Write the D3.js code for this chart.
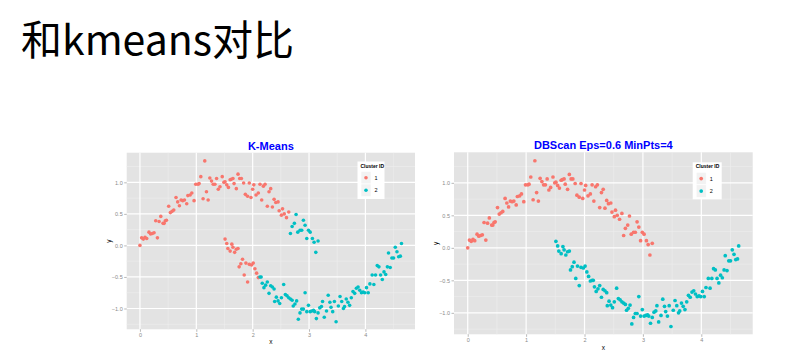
<!DOCTYPE html>
<html>
<head>
<meta charset="utf-8">
<script src="https://cdn.jsdelivr.net/npm/d3@7"></script>
<style>
  body { margin: 0; background: #fff; }
  svg { display: block; }
</style>
</head>
<body>
<div id="chart"></div>
<script>
// two moons, split in 4 groups by (kmeans id, dbscan id)
var upperX = [0.00,0.03,0.06,0.09,0.12,0.16,0.19,0.22,0.25,0.28,0.31,0.34,0.37,0.41,0.43,0.45,0.47,0.51,0.54,0.57,0.60,0.64,0.67,0.70,0.73,0.76,0.79,0.83,0.85,0.89,0.92,0.96,0.99,1.03,1.05,1.08,1.12,1.15,1.18,1.21,1.24,1.27,1.30,1.33,1.36,1.39,1.42,1.46,1.49,1.51,1.54,1.57,1.60,1.62,1.65,1.67,1.71,1.74,1.77,1.80,1.84,1.87,1.91,1.94,1.97,2.00,2.02,2.06,2.10,2.13,2.16,2.19,2.22,2.26,2.29,2.32,2.35,2.38,2.41,2.45,2.47,2.51,2.53,2.56,2.60,2.64];
var upperY = [0.00,0.12,0.10,0.13,0.11,0.21,0.18,0.19,0.20,0.39,0.12,0.38,0.46,0.35,0.35,0.39,0.40,0.62,0.52,0.54,0.56,0.76,0.69,0.63,0.72,0.71,0.72,0.66,0.79,0.80,0.83,0.71,0.97,0.97,0.98,1.09,0.74,1.34,0.85,0.72,1.07,1.02,0.97,0.97,1.06,0.89,0.93,1.09,1.00,1.01,0.96,0.92,1.04,1.05,1.06,0.98,0.90,1.13,1.06,1.06,0.99,0.81,0.78,0.99,0.76,0.89,0.96,0.80,0.83,0.97,0.72,0.94,0.97,0.62,0.85,0.90,0.61,0.73,0.68,0.69,0.55,0.48,0.58,0.50,0.44,0.53];

var tipX = [2.67,2.70,2.74,2.77,2.80,2.84,2.87,2.90,2.93,2.96,2.99,3.02,3.06,3.09,3.12,3.16];
var tipY = [0.19,0.30,0.35,0.49,0.21,0.24,0.24,0.40,0.32,0.11,0.24,0.21,0.11,0.05,-0.11,0.07];

var headX = [1.51,1.54,1.56,1.60,1.63,1.65,1.68,1.71,1.74,1.76,1.79,1.82,1.85,1.88,1.91,1.94,1.98,2.01,2.04,2.07,2.10];
var headY = [0.10,0.03,-0.05,-0.09,0.02,-0.03,-0.11,-0.06,-0.05,-0.34,-0.29,-0.22,-0.47,-0.28,-0.58,-0.30,-0.31,-0.28,-0.37,-0.44,-0.51];

var tailX = [2.13,2.15,2.17,2.20,2.23,2.26,2.29,2.32,2.35,2.38,2.39,2.42,2.45,2.48,2.51,2.55,2.58,2.61,2.64,2.67,2.70,2.72,2.75,2.78,2.81,2.84,2.87,2.90,2.93,2.96,2.99,3.02,3.05,3.08,3.10,3.13,3.16,3.19,3.22,3.24,3.27,3.31,3.34,3.37,3.39,3.42,3.45,3.48,3.52,3.55,3.58,3.61,3.63,3.66,3.69,3.72,3.75,3.78,3.81,3.84,3.87,3.90,3.93,3.96,3.99,4.02,4.05,4.08,4.12,4.15,4.18,4.21,4.24,4.27,4.30,4.33,4.36,4.39,4.41,4.44,4.47,4.50,4.53,4.56,4.59,4.62,4.64];
var tailY = [-0.50,-0.50,-0.60,-0.67,-0.63,-0.58,-0.76,-0.64,-0.66,-0.69,-0.89,-0.82,-0.88,-0.92,-0.83,-0.62,-0.78,-0.80,-0.83,-0.85,-0.87,-0.96,-0.93,-0.88,-1.17,-1.07,-1.01,-1.01,-0.75,-1.05,-0.95,-1.05,-1.04,-1.03,-1.05,-1.16,-1.07,-0.99,-0.97,-0.89,-1.14,-1.04,-0.79,-0.90,-0.98,-1.05,-0.89,-1.21,-0.96,-0.81,-0.89,-1.00,-0.97,-0.85,-0.90,-0.95,-0.83,-0.73,-0.76,-0.68,-0.66,-0.71,-0.75,-0.74,-0.75,-0.67,-0.75,-0.61,-0.47,-0.62,-0.47,-0.32,-0.34,-0.47,-0.54,-0.42,-0.46,-0.34,-0.12,-0.35,-0.20,-0.20,-0.03,-0.10,-0.18,-0.17,0.03];

var groups = [
  {x: upperX, y: upperY, kmeans: 1, dbscan: 1},
  {x: tipX,   y: tipY,   kmeans: 2, dbscan: 1},
  {x: headX,  y: headY,  kmeans: 1, dbscan: 2},
  {x: tailX,  y: tailY,  kmeans: 2, dbscan: 2}
];

var xTicks = [0, 1, 2, 3, 4];
var yTicks = [-1.0, -0.5, 0.0, 0.5, 1.0];
var clusterIds = [1, 2];

var W = 800, H = 353;
var colors = {1: "#F8766D", 2: "#00BFC4"};

var svg = d3.select("#chart").append("svg")
  .attr("width", W).attr("height", H);

svg.append("text")
  .attr("x", 21).attr("y", 55)
  .style("font-family", "'Noto Sans CJK SC', 'Noto Sans', sans-serif")
  .style("font-size", "41px")
  .attr("fill", "#000")
  .text("和kmeans对比");

function drawPanel(p) {
  var x = d3.scaleLinear().domain([-0.235, 4.88]).range([p.x0, p.x1]);
  var y = d3.scaleLinear().domain([-1.33, 1.47]).range([p.y1, p.y0]);
  var g = svg.append("g");

  g.append("rect")
    .attr("x", p.x0).attr("y", p.y0)
    .attr("width", p.x1 - p.x0).attr("height", p.y1 - p.y0)
    .attr("fill", "#E3E3E3");

  // minor grid
  var xMinor = [0.5, 1.5, 2.5, 3.5, 4.5];
  var yMinor = [-1.25, -0.75, -0.25, 0.25, 0.75, 1.25];
  g.selectAll(".xm").data(xMinor).enter().append("line")
    .attr("x1", x).attr("x2", x).attr("y1", p.y0).attr("y2", p.y1)
    .attr("stroke", "#EFEFEF").attr("stroke-width", 0.6);
  g.selectAll(".ym").data(yMinor).enter().append("line")
    .attr("y1", y).attr("y2", y).attr("x1", p.x0).attr("x2", p.x1)
    .attr("stroke", "#EFEFEF").attr("stroke-width", 0.6);
  // major grid
  g.selectAll(".xM").data(xTicks).enter().append("line")
    .attr("x1", x).attr("x2", x).attr("y1", p.y0).attr("y2", p.y1)
    .attr("stroke", "#fff").attr("stroke-width", 1.2);
  g.selectAll(".yM").data(yTicks).enter().append("line")
    .attr("y1", y).attr("y2", y).attr("x1", p.x0).attr("x2", p.x1)
    .attr("stroke", "#fff").attr("stroke-width", 1.2);

  // axes
  var xAxis = d3.axisBottom(x).tickValues(xTicks).tickSize(2.5).tickPadding(1.5)
    .tickFormat(d3.format("d"));
  var yAxis = d3.axisLeft(y).tickValues(yTicks).tickSize(2.5).tickPadding(1.5)
    .tickFormat(d3.format(".1f"));
  var ax = g.append("g").attr("transform", "translate(0," + p.y1 + ")").call(xAxis);
  var ay = g.append("g").attr("transform", "translate(" + p.x0 + ",0)").call(yAxis);
  [ax, ay].forEach(function(a) {
    a.select(".domain").remove();
    a.selectAll(".tick line").attr("stroke", "#8a8a8a").attr("stroke-width", 0.6);
    a.selectAll(".tick text").attr("fill", "#8a8a8a")
      .style("font-family", "'Liberation Sans', Arial, sans-serif").style("font-size", "5.5px");
  });

  // points
  groups.forEach(function(gr) {
    var id = gr[p.method];
    g.selectAll(null).data(gr.x).enter().append("circle")
      .attr("cx", function(d) { return x(d); })
      .attr("cy", function(d, i) { return y(gr.y[i]); })
      .attr("r", p.r)
      .attr("fill", colors[id]);
  });

  // titles
  g.append("text")
    .attr("x", (p.x0 + p.x1) / 2).attr("y", p.y0 - 3)
    .attr("text-anchor", "middle")
    .style("font-family", "'Liberation Sans', Arial, sans-serif")
    .style("font-size", "11px").style("font-weight", "bold")
    .attr("fill", "#0000FF")
    .text(p.title);
  g.append("text")
    .attr("x", (p.x0 + p.x1) / 2).attr("y", p.xLabelY)
    .attr("text-anchor", "middle")
    .style("font-family", "'Liberation Sans', Arial, sans-serif").style("font-size", "6.5px")
    .text("x");
  g.append("text")
    .attr("transform", "translate(" + p.yLabelX + "," + ((p.y0 + p.y1) / 2) + ") rotate(-90)")
    .attr("text-anchor", "middle")
    .style("font-family", "'Liberation Sans', Arial, sans-serif").style("font-size", "6.5px")
    .text("y");

  // legend
  var L = p.legend;
  var lg = g.append("g");
  lg.append("rect").attr("x", L.x).attr("y", L.y).attr("width", L.w).attr("height", L.h)
    .attr("fill", "#fff");
  lg.append("text").attr("x", L.x + 3).attr("y", L.y + 6)
    .style("font-family", "'Liberation Sans', Arial, sans-serif")
    .style("font-size", "5px").style("font-weight", "bold")
    .text("Cluster ID");
  clusterIds.forEach(function(c, i) {
    var ky = L.y + 10 + i * L.step;
    lg.append("rect").attr("x", L.x + 3.5).attr("y", ky).attr("width", 10).attr("height", L.step)
      .attr("fill", "#F2F2F2").attr("stroke", "#fff").attr("stroke-width", 0.6);
    lg.append("circle").attr("cx", L.x + 8.5).attr("cy", ky + L.step / 2).attr("r", p.r)
      .attr("fill", colors[c]);
    lg.append("text").attr("x", L.x + 17).attr("y", ky + L.step / 2 + 2)
      .style("font-family", "'Liberation Sans', Arial, sans-serif").style("font-size", "5.5px")
      .text(c);
  });
}

drawPanel({
  title: "K-Means", method: "kmeans",
  x0: 126.7, x1: 415, y0: 152.7, y1: 329.3, r: 1.8,
  xLabelY: 344, yLabelX: 111,
  legend: {x: 357.5, y: 161.5, w: 27, h: 37.5, step: 12.5}
});
drawPanel({
  title: "DBScan Eps=0.6 MinPts=4", method: "dbscan",
  x0: 454, x1: 752.7, y0: 152.3, y1: 334.3, r: 1.85,
  xLabelY: 350, yLabelX: 438,
  legend: {x: 692.7, y: 162.3, w: 29, h: 37, step: 12.5}
});
</script>
</body>
</html>
